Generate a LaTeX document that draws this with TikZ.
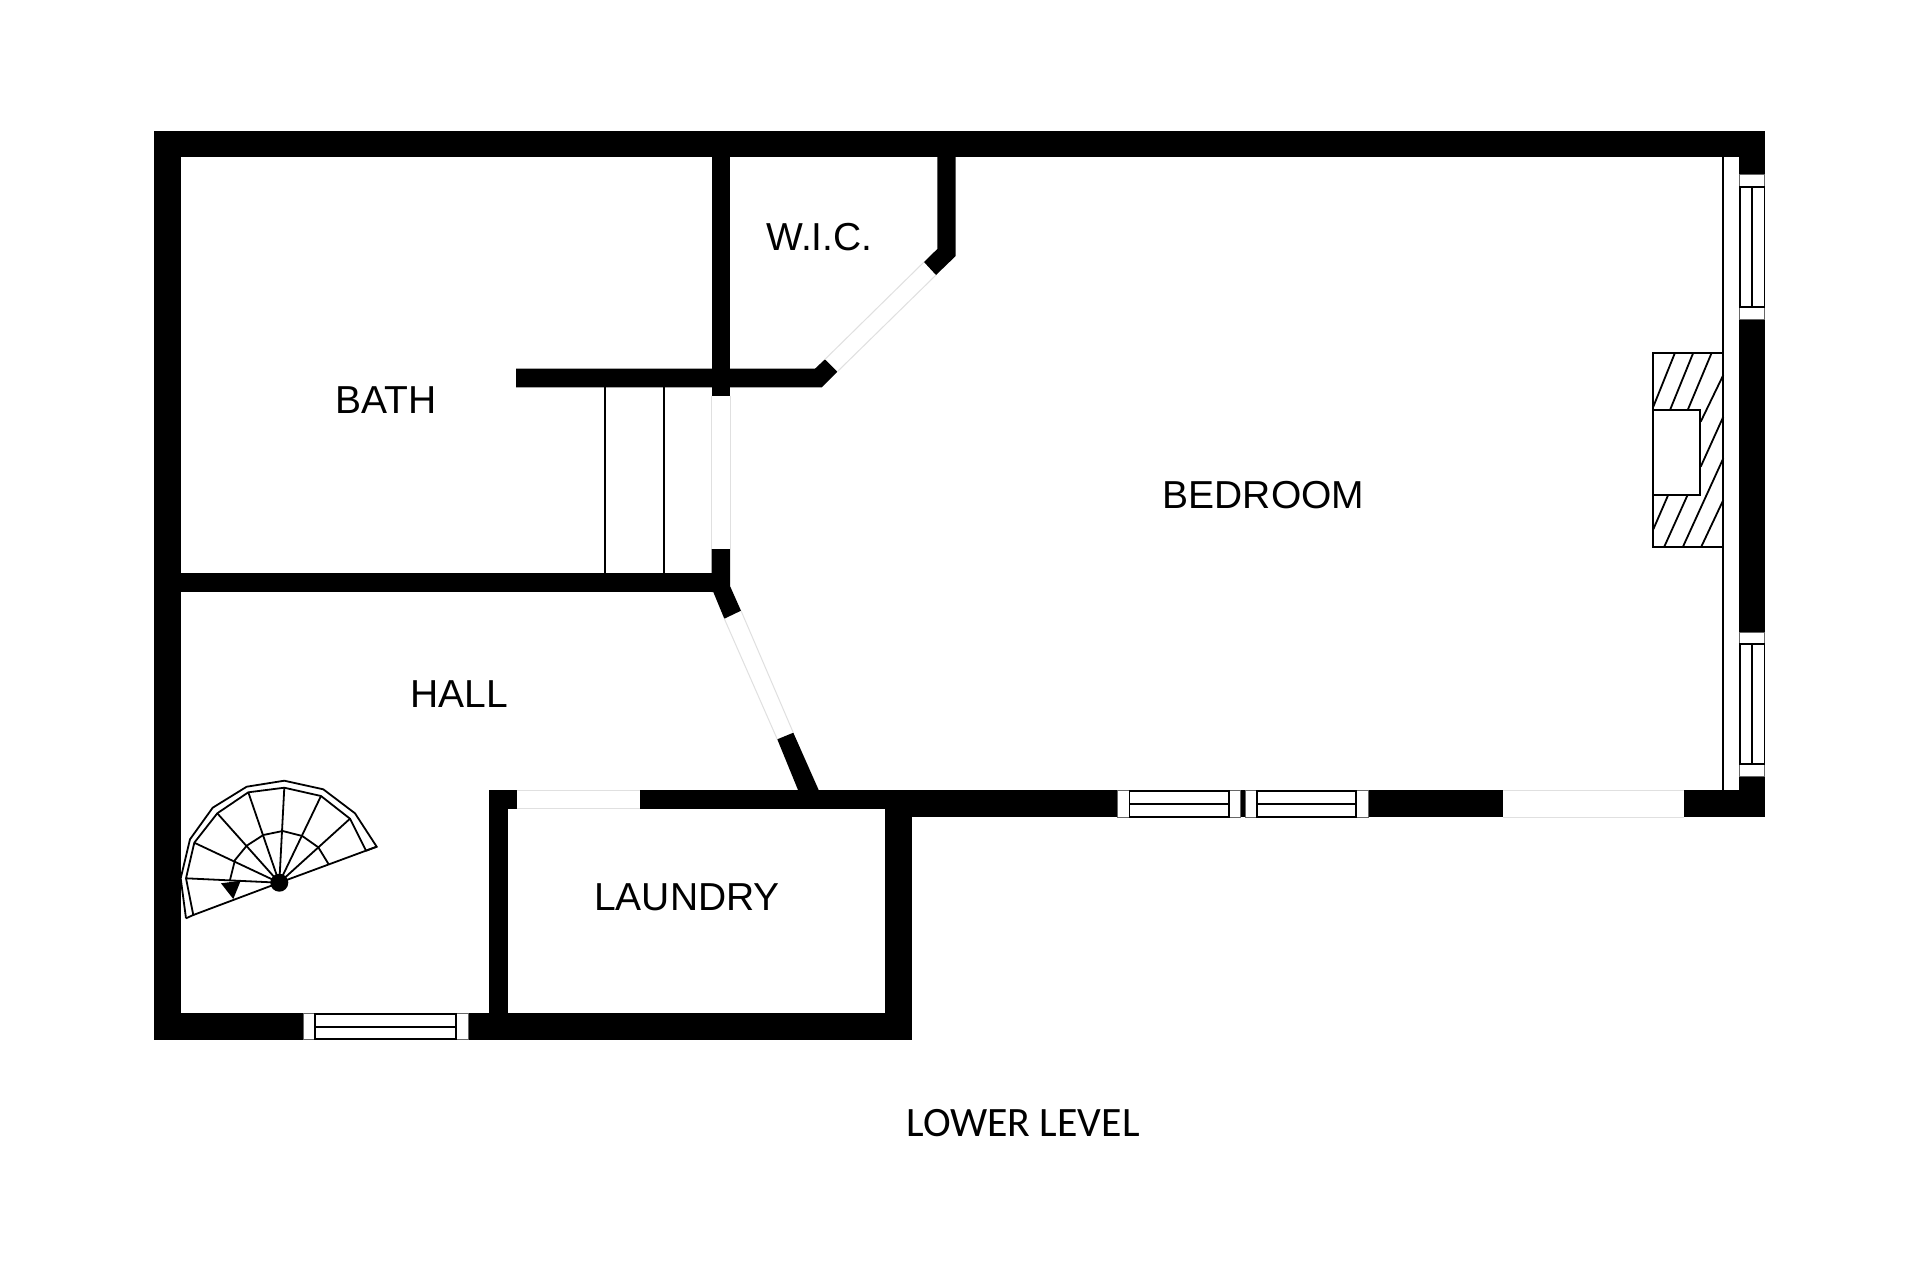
\documentclass[tikz,border=0pt]{standalone}
\usepackage{fontspec}
\setmainfont{Liberation Sans}
\newfontfamily\levelfont{Carlito}
\tikzset{
    wall/.style={fill=black, draw=none},
    gap/.style={fill=white, draw=none},
    gapline/.style={draw=black!12, line width=1pt},
    glass/.style={draw=black!60, line width=0.8pt, fill=white},
    thinline/.style={draw=black, line width=1.8pt},
    rail/.style={draw=black, line width=1.8pt, line join=miter},
    room/.style={font=\fontsize{39pt}{40pt}\selectfont, inner sep=0pt}
}
\begin{document}
\begin{tikzpicture}[x=1pt,y=-1pt]
    \useasboundingbox (0,0) rectangle (1920,1280);
    \fill[white] (0,0) rectangle (1920,1280);

    % outer walls
    \fill[wall] (153.8,130.5) rectangle (1765.3,157.3);
    \fill[wall] (153.8,130.5) rectangle (180.7,1040);
    \fill[wall] (153.8,1013.3) rectangle (912.3,1040);
    \fill[wall] (885,790) rectangle (912.3,1040);
    \fill[wall] (1738.7,130.5) rectangle (1765.3,817.3);
    \fill[wall] (885,790) rectangle (1765.3,817.3);

    % inner walls
    \fill[wall] (489,790) rectangle (885,808.5);
    \fill[wall] (489,790) rectangle (507.7,1013.3);
    \fill[wall] (153.8,573.3) rectangle (713.3,592);
    \fill[wall] (711.7,145) rectangle (730,395.7);
    \fill[wall] (711.7,549) -- (730,549) -- (730,586) -- (741,610.7) -- (724.3,618.7) -- (713.3,592) -- (711.7,592) -- cycle;
    \fill[wall] (777.3,739.3) -- (793.3,732.7) -- (819,790.7) -- (798.3,790.7) -- cycle;
    \fill[wall] (516,368.7) -- (815,368.7) -- (825,359.3) -- (837.3,371.7) -- (821.7,387.3) -- (516,387.3) -- cycle;
    \fill[wall] (937.3,145) -- (955.7,145) -- (955.7,256) -- (936,275) -- (924,262) -- (937.3,249) -- cycle;

    % plain openings
    \fill[gap] (711.7,395.7) rectangle (730,549);
    \draw[gapline] (711.7,395.7) -- (711.7,549);
    \draw[gapline] (730,395.7) -- (730,549);
    \draw[gapline] (924,262) -- (825,359.3);
    \draw[gapline] (936,275) -- (837.3,371.7);
    \draw[gapline] (741,610.7) -- (793.3,732.7);
    \draw[gapline] (724.3,618.7) -- (777.3,739.3);
    \fill[gap] (516.7,790) rectangle (640,808.5);
    \draw[gapline] (516.7,790) -- (640,790);
    \draw[gapline] (516.7,808.5) -- (640,808.5);
    \fill[gap] (1503.3,790) rectangle (1683.7,817.3);
    \draw[gapline] (1503.3,790) -- (1683.7,790);
    \draw[gapline] (1503.3,817.3) -- (1683.7,817.3);

    % strip along the right wall
    \fill[gap] (1723.3,157.3) rectangle (1738.7,790);
    \draw[thinline] (1723.3,157.3) -- (1723.3,790);

    % windows
    \filldraw[glass] (303.3,1013.3) rectangle (468.3,1039.5);
    \draw[thinline] (315.3,1013.8) rectangle (456,1039.3);
    \draw[thinline] (315.3,1026.7) -- (456,1026.7);

    \filldraw[glass] (1117.6,790.5) rectangle (1240.8,817);
    \draw[thinline] (1129.4,791) rectangle (1228.6,816.7);
    \draw[thinline] (1129.4,803.7) -- (1228.6,803.7);

    \filldraw[glass] (1245.3,790.5) rectangle (1368,817);
    \draw[thinline] (1257,791) rectangle (1356.3,816.7);
    \draw[thinline] (1257,803.7) -- (1356.3,803.7);

    \filldraw[glass] (1739.3,174.5) rectangle (1764.7,319);
    \draw[thinline] (1739.6,186.7) rectangle (1764.4,307.3);
    \draw[thinline] (1752,186.7) -- (1752,307.3);

    \filldraw[glass] (1739.3,632.3) rectangle (1764.7,776.7);
    \draw[thinline] (1739.6,644.3) rectangle (1764.4,764.3);
    \draw[thinline] (1752,644.3) -- (1752,764.3);

    % fireplace
    \draw[thinline] (1723.3,352.7) -- (1653.3,352.7) -- (1653.3,547.3) -- (1723.3,547.3);
    \draw[thinline] (1653.3,406.7) -- (1675,352.7);
    \draw[thinline] (1670,410) -- (1693.3,352.7);
    \draw[thinline] (1687.7,410) -- (1711.7,352.7);
    \draw[thinline] (1700.7,421.7) -- (1723.3,375);
    \draw[thinline] (1700.7,466.7) -- (1723.3,416.7);
    \draw[thinline] (1653.3,529.3) -- (1668.3,494.7);
    \draw[thinline] (1664,547.3) -- (1687.7,494.7);
    \draw[thinline] (1682.7,547.3) -- (1723.3,458.3);
    \draw[thinline] (1701,547.3) -- (1723.3,500);
    \filldraw[thinline, fill=white] (1652.7,410) rectangle (1700,494.7);

    % straight stair treads
    \draw[thinline] (605,387.3) -- (605,573.3);
    \draw[thinline] (664,387.3) -- (664,573.3);

    % spiral stair
    \draw[rail] (186,918.3) -- (180.7,878.3) -- (190,839.3) -- (212.7,807.7) -- (246.7,786.7) -- (284.3,780.7) -- (323.3,789.3) -- (355,813.3) -- (376.7,846.7) -- (366,850.7);
    \draw[rail] (186,918.3) -- (193.3,915) -- (186,878.3) -- (194.3,842.7) -- (217.3,813.3) -- (248.3,792.3) -- (284.3,787.7) -- (321,796) -- (350,818.7) -- (366,850.7);
    \draw[rail] (230,880) -- (235,860) -- (246.7,845.7) -- (263.3,835) -- (282.7,831) -- (302.3,836) -- (318.3,847.3) -- (328.7,864.3);
    \draw[rail] (193.3,915) -- (279.3,882.7);
    \draw[rail] (186,878.3) -- (279.3,882.7);
    \draw[rail] (194.3,842.7) -- (279.3,882.7);
    \draw[rail] (217.3,813.3) -- (279.3,882.7);
    \draw[rail] (248.3,792.3) -- (279.3,882.7);
    \draw[rail] (284.3,787.7) -- (279.3,882.7);
    \draw[rail] (321,796) -- (279.3,882.7);
    \draw[rail] (350,818.7) -- (279.3,882.7);
    \draw[rail] (376.7,846.7) -- (279.3,882.7);
    \fill[black] (279.3,882.7) circle (9);
    \fill[black] (221,883.3) -- (240.7,880.7) -- (233.3,899) -- cycle;

    % room names
    \node[room] (bath) at (385.7,400) {BATH};
    \node[room] (wic) at (819.5,236.7) {W.I.C.};
    \node[room] (bedroom) at (1263.5,494.7) {BEDROOM};
    \node[room] (hall) at (459.5,694.3) {HALL};
    \node[room] (laundry) at (687,897) {LAUNDRY};
    \node[inner sep=0pt, font=\levelfont\fontsize{41.8pt}{43pt}\selectfont] (level) at (1023,1123) {LOWER LEVEL};
\end{tikzpicture}
\end{document}
